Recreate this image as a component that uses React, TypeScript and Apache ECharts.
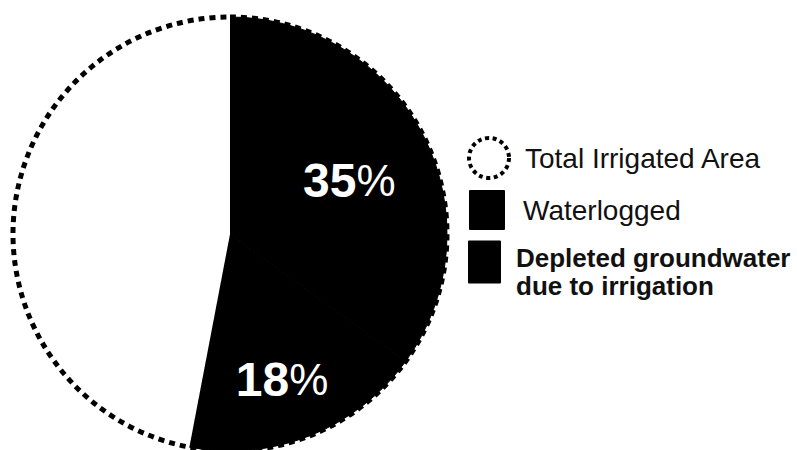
import React, { useEffect, useRef } from 'react';
import * as echarts from 'echarts';

const sliceNames = ['Waterlogged', 'Depleted groundwater due to irrigation', 'Other irrigated area'];
const sliceValues = [35, 18, 47];
const sliceLabels = ['35', '18', ''];
const totalName = 'Total Irrigated Area';
const totalValue = 100;
const legendLabels = ['Total Irrigated Area', 'Waterlogged', 'Depleted groundwater', 'due to irrigation'];

export default function App() {
  const ref = useRef<HTMLDivElement>(null);
  useEffect(() => {
    const chart = echarts.init(ref.current!, null, { renderer: 'svg' });
    const font = '"Liberation Sans", Arial, Helvetica, sans-serif';
    const center = [230, 234];
    const radius = 217;
    const labelShift = [[20, -3], [11, 42], [0, 0]];
    const fills = ['#000', '#000', '#fff'];
    const baseText = { fontFamily: font, fontSize: 28, color: '#111' };
    chart.setOption({
      animation: false,
      backgroundColor: '#fff',
      legend: [
        {
          left: 467, top: 136, padding: 0, orient: 'vertical', itemWidth: 42, itemHeight: 40, selectedMode: false,
          data: [{ name: totalName, icon: 'circle', itemStyle: { color: '#fff', borderColor: '#000', borderWidth: 4, borderType: [4, 3.5] } }],
          formatter: () => legendLabels[0],
          textStyle: { ...baseText, padding: [0, 0, 0, 10] },
        },
        {
          left: 469, top: 190, padding: 0, orient: 'vertical', itemWidth: 34, itemHeight: 38, selectedMode: false,
          data: [{ name: sliceNames[0], icon: 'rect', itemStyle: { color: '#000' } }],
          formatter: () => legendLabels[1],
          textStyle: { ...baseText, padding: [0, 0, 0, 14] },
        },
        {
          left: 468, top: 229, padding: 0, orient: 'vertical', itemWidth: 31, itemHeight: 41, selectedMode: false,
          data: [{ name: sliceNames[1], icon: 'rect', itemStyle: { color: '#000' } }],
          formatter: () => `{s| }\n{t|${legendLabels[2]}}\n{t|${legendLabels[3]}}`,
          textStyle: {
            ...baseText,
            padding: [0, 0, 0, 11],
            rich: {
              s: { fontFamily: font, fontSize: 10, lineHeight: 20 },
              t: { fontFamily: font, fontSize: 26, fontWeight: 'bold', lineHeight: 28, color: '#111' },
            },
          },
        },
      ],
      series: [
        {
          type: 'pie',
          center,
          radius,
          startAngle: 90,
          clockwise: true,
          silent: true,
          emphasis: { disabled: true },
          data: sliceNames.map((n, i) => ({
            name: n,
            value: sliceValues[i],
            itemStyle: { color: fills[i], borderColor: fills[i], borderWidth: i < 2 ? 1 : 0 },
            label: { show: i < 2 },
          })),
          label: {
            position: 'inside',
            formatter: (p: any) => `{n|${sliceLabels[p.dataIndex]}}{p|%}`,
            rich: {
              n: { fontFamily: font, fontSize: 48, fontWeight: 'bold', color: '#fff' },
              p: { fontFamily: font, fontSize: 44, fontWeight: 'normal', color: '#fff' },
            },
          },
          labelLine: { show: false },
          labelLayout: (p: any) => ({ dx: labelShift[p.dataIndex][0], dy: labelShift[p.dataIndex][1] }),
        },
        {
          type: 'pie',
          name: 'total',
          center,
          radius,
          silent: true,
          z: 3,
          emphasis: { disabled: true },
          data: [{ name: totalName, value: totalValue }],
          itemStyle: { color: 'rgba(0,0,0,0)', borderColor: '#000', borderWidth: 5, borderType: [6, 5] },
          label: { show: false },
          labelLine: { show: false },
        },
      ],
    });
    return () => chart.dispose();
  }, []);
  return <div ref={ref} style={{ position: 'fixed', left: 0, top: 0, width: 797, height: 450 }} />;
}
